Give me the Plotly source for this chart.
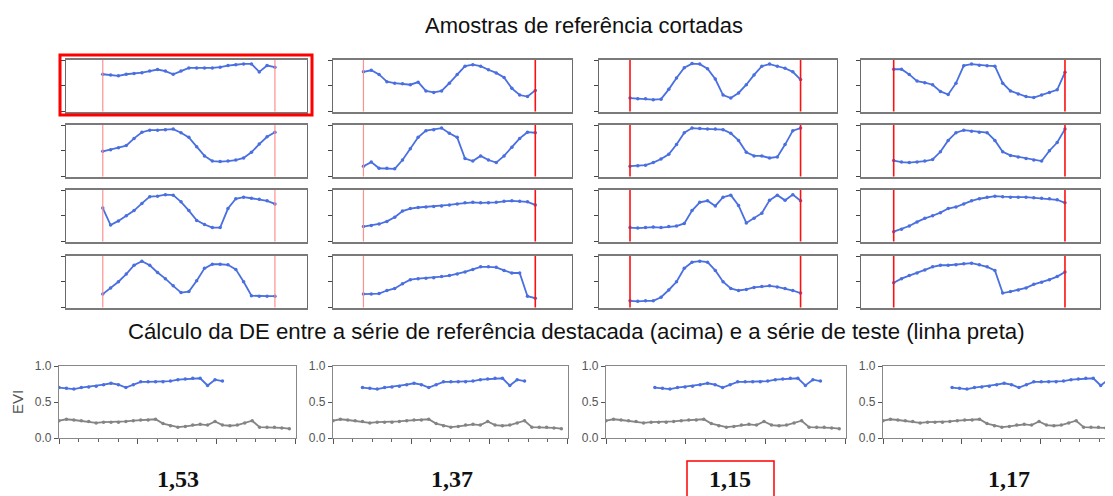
import plotly.graph_objects as go

# reference picture size and page offset (default body margin of the page)
W, H = 1113, 496
OFF = 8
FW, FH = W - OFF, H - OFF

TITLE_TOP = "Amostras de referência cortadas"
TITLE_BOTTOM = "Cálculo da DE entre a série de referência destacada (acima) e a série de teste (linha preta)"

# highlighted reference series (EVI)
REF_EVI = [0.70, 0.69, 0.68, 0.70, 0.71, 0.72, 0.74, 0.76, 0.74, 0.70, 0.74, 0.78,
           0.78, 0.78, 0.78, 0.79, 0.81, 0.82, 0.83, 0.83, 0.73, 0.81, 0.79]
# test series (black/grey line)
TEST_EVI = [0.24, 0.26, 0.25, 0.24, 0.23, 0.21, 0.22, 0.22, 0.22, 0.23, 0.24, 0.25,
            0.25, 0.26, 0.20, 0.17, 0.15, 0.16, 0.18, 0.19, 0.18, 0.23, 0.18, 0.17,
            0.18, 0.21, 0.24, 0.15, 0.15, 0.15, 0.14, 0.13]
# other cropped reference samples (relative EVI)
R1C2 = [0.77, 0.80, 0.72, 0.58, 0.55, 0.54, 0.52, 0.57, 0.40, 0.37, 0.40, 0.55, 0.72, 0.88, 0.91, 0.88, 0.81, 0.75, 0.66, 0.45, 0.32, 0.29, 0.41]
R1C3 = [0.26, 0.25, 0.25, 0.23, 0.24, 0.43, 0.65, 0.85, 0.93, 0.92, 0.83, 0.63, 0.32, 0.26, 0.36, 0.52, 0.71, 0.88, 0.92, 0.88, 0.84, 0.77, 0.62]
R1C4 = [0.82, 0.82, 0.72, 0.59, 0.56, 0.52, 0.39, 0.33, 0.55, 0.89, 0.92, 0.90, 0.89, 0.88, 0.55, 0.40, 0.34, 0.29, 0.27, 0.32, 0.37, 0.42, 0.76]
R2C1 = [0.49, 0.52, 0.56, 0.60, 0.74, 0.86, 0.90, 0.90, 0.91, 0.92, 0.85, 0.76, 0.58, 0.40, 0.30, 0.29, 0.30, 0.32, 0.36, 0.47, 0.63, 0.77, 0.86]
R2C2 = [0.20, 0.28, 0.16, 0.16, 0.15, 0.32, 0.54, 0.76, 0.89, 0.91, 0.94, 0.84, 0.76, 0.35, 0.30, 0.40, 0.32, 0.27, 0.40, 0.57, 0.74, 0.86, 0.85]
R2C3 = [0.20, 0.21, 0.22, 0.27, 0.34, 0.43, 0.62, 0.85, 0.94, 0.93, 0.92, 0.92, 0.91, 0.84, 0.70, 0.47, 0.40, 0.40, 0.36, 0.38, 0.62, 0.89, 0.94]
R2C4 = [0.31, 0.28, 0.27, 0.28, 0.30, 0.33, 0.48, 0.70, 0.85, 0.90, 0.88, 0.86, 0.85, 0.70, 0.48, 0.41, 0.38, 0.35, 0.32, 0.30, 0.50, 0.66, 0.92]
R3C1 = [0.65, 0.32, 0.40, 0.50, 0.60, 0.74, 0.87, 0.88, 0.91, 0.90, 0.77, 0.60, 0.41, 0.33, 0.27, 0.27, 0.64, 0.83, 0.86, 0.84, 0.82, 0.79, 0.73]
R3C2 = [0.29, 0.31, 0.34, 0.39, 0.47, 0.59, 0.64, 0.66, 0.67, 0.68, 0.69, 0.71, 0.73, 0.75, 0.76, 0.75, 0.75, 0.76, 0.78, 0.79, 0.78, 0.77, 0.71]
R3C3 = [0.27, 0.26, 0.27, 0.28, 0.27, 0.29, 0.30, 0.35, 0.60, 0.76, 0.79, 0.69, 0.86, 0.90, 0.70, 0.36, 0.45, 0.55, 0.80, 0.90, 0.80, 0.91, 0.79]
R3C4 = [0.19, 0.24, 0.30, 0.38, 0.45, 0.50, 0.56, 0.64, 0.67, 0.73, 0.79, 0.83, 0.86, 0.88, 0.87, 0.86, 0.86, 0.86, 0.85, 0.84, 0.83, 0.81, 0.75]
R4C1 = [0.26, 0.38, 0.50, 0.65, 0.82, 0.90, 0.82, 0.68, 0.56, 0.42, 0.29, 0.31, 0.52, 0.76, 0.84, 0.84, 0.83, 0.74, 0.50, 0.23, 0.22, 0.22, 0.22]
R4C2 = [0.26, 0.26, 0.27, 0.33, 0.37, 0.46, 0.54, 0.56, 0.57, 0.58, 0.60, 0.62, 0.65, 0.69, 0.74, 0.79, 0.79, 0.78, 0.72, 0.67, 0.67, 0.22, 0.18]
R4C3 = [0.13, 0.12, 0.13, 0.13, 0.20, 0.34, 0.50, 0.76, 0.88, 0.90, 0.88, 0.72, 0.50, 0.37, 0.33, 0.35, 0.39, 0.41, 0.42, 0.40, 0.37, 0.33, 0.28]
R4C4 = [0.48, 0.56, 0.62, 0.67, 0.73, 0.79, 0.82, 0.82, 0.83, 0.85, 0.86, 0.83, 0.79, 0.72, 0.28, 0.31, 0.34, 0.38, 0.45, 0.49, 0.54, 0.60, 0.69]

GRID = [[REF_EVI, R1C2, R1C3, R1C4],
        [R2C1, R2C2, R2C3, R2C4],
        [R3C1, R3C2, R3C3, R3C4],
        [R4C1, R4C2, R4C3, R4C4]]

DE_VALUES = ["1,53", "1,37", "1,15", "1,17"]
REF_SHIFTS = [0, 4, 6.5, 9.3]     # position of reference along the test series
BEST = 2
EVI_TICKS = [0.0, 0.5, 1.0]

BLUE = "#4a6fe0"
GREY = "#848484"


def px(x):
    return (x - OFF) / FW


def py(y):
    return 1 - (y - OFF) / FH


fig = go.Figure()
layout = {}
shapes = []
annotations = []

# ---- top grid ----
col_left = [66, 333, 599, 861]
col_right = [307, 572, 837, 1100]
col_xr = [[-4.7, 26.1], [-3.9, 26.7], [-4.0, 26.7], [-4.2, 26.5]]
row_top = [60, 125, 190, 256]
row_h = 51.5

idx = 0
for r in range(4):
    for c in range(4):
        idx += 1
        s = "" if idx == 1 else str(idx)
        vals = GRID[r][c]
        xs = list(range(len(vals)))
        yr = [0.23, 0.88] if (r == 0 and c == 0) else [0.0, 1.0]
        fig.add_trace(go.Scatter(x=xs, y=vals, mode="lines+markers",
                                 line=dict(color=BLUE, width=1.8),
                                 marker=dict(color=BLUE, size=3.5),
                                 xaxis="x" + s, yaxis="y" + s, showlegend=False,
                                 hoverinfo="skip"))
        layout["xaxis" + s] = dict(domain=[px(col_left[c]), px(col_right[c])],
                                   range=col_xr[c],
                                   anchor="y" + s, showline=True, mirror=True,
                                   linecolor="#7a7a7a", linewidth=2,
                                   showgrid=False, zeroline=False, ticks="",
                                   showticklabels=False, fixedrange=True,
                                   automargin=False)
        layout["yaxis" + s] = dict(domain=[py(row_top[r] + row_h), py(row_top[r])],
                                   range=yr,
                                   anchor="x" + s, showline=True, mirror=True,
                                   linecolor="#6a6a6a", linewidth=1.2,
                                   showgrid=False, zeroline=False, ticks="outside",
                                   ticklen=4, tickcolor="#444",
                                   tickvals=[yr[0], (yr[0] + yr[1]) / 2, yr[1]],
                                   showticklabels=False, fixedrange=True,
                                   automargin=False)
        # crop window limits
        for k, xv in enumerate([xs[0], xs[-1]]):
            light = (c == 0) or (c == 1 and k == 0)
            shapes.append(dict(type="line", xref="x" + s, yref="y" + s + " domain",
                               x0=xv, x1=xv, y0=0, y1=1,
                               line=dict(color="#ff9090" if light else "#ff1010",
                                         width=1.2 if light else 1.6)))

# highlight box around first sample
shapes.append(dict(type="rect", xref="paper", yref="paper",
                   x0=px(60), x1=px(312), y0=py(115), y1=py(55),
                   line=dict(color="#ff0000", width=3)))

# ---- bottom DE panels ----
b_left = [59, 333, 606, 883]
b_w = [237, 235, 240, 237]
b_top, b_bot = 366, 438
full_range = 31.9
num_x = [178, 452, 730, 1009]

for p in range(4):
    idx += 1
    s = str(idx)
    w = b_w[p]
    right = min(b_left[p] + w, W)
    xr = [0, full_range * (right - b_left[p]) / w]
    fig.add_trace(go.Scatter(x=list(range(len(TEST_EVI))), y=TEST_EVI,
                             mode="lines+markers",
                             line=dict(color=GREY, width=1.8),
                             marker=dict(color=GREY, size=3.5),
                             xaxis="x" + s, yaxis="y" + s, showlegend=False,
                             hoverinfo="skip"))
    fig.add_trace(go.Scatter(x=[REF_SHIFTS[p] + i for i in range(len(REF_EVI))],
                             y=REF_EVI, mode="lines+markers",
                             line=dict(color=BLUE, width=1.8),
                             marker=dict(color=BLUE, size=3.5),
                             xaxis="x" + s, yaxis="y" + s, showlegend=False,
                             hoverinfo="skip"))
    layout["xaxis" + s] = dict(domain=[px(b_left[p]), min(1, px(right))], range=xr,
                               anchor="y" + s, showline=True, mirror=True,
                               linecolor="#888", linewidth=1.2,
                               showgrid=False, zeroline=False,
                               ticks="outside", ticklen=5, tickcolor="#555",
                               tickmode="linear", tick0=0, dtick=10.6,
                               showticklabels=False,
                               minor=dict(ticks="outside", ticklen=3,
                                          tickcolor="#666", tickmode="linear",
                                          tick0=0, dtick=2.65, showgrid=False),
                               fixedrange=True, automargin=False)
    layout["yaxis" + s] = dict(domain=[py(b_bot), py(b_top)], range=[0, 1],
                               anchor="x" + s, showline=True, mirror=True,
                               linecolor="#888", linewidth=1.2,
                               showgrid=False, zeroline=False,
                               ticks="outside", ticklen=4, tickcolor="#555",
                               tickvals=EVI_TICKS,
                               ticktext=["%.1f" % v for v in EVI_TICKS],
                               tickfont=dict(family="Liberation Sans", size=12,
                                             color="#555"),
                               fixedrange=True, automargin=False)
    annotations.append(dict(x=px(num_x[p]), y=py(479), xref="paper",
                            yref="paper", xanchor="center", yanchor="middle",
                            text="<b>%s</b>" % DE_VALUES[p],
                            showarrow=False,
                            font=dict(family="Liberation Serif", size=24,
                                      color="#111")))

# box around the best (lowest) distance
shapes.append(dict(type="rect", xref="paper", yref="paper",
                   x0=px(687), x1=px(774), y0=-0.02, y1=py(461),
                   line=dict(color="#ff0000", width=1.5)))

annotations.append(dict(x=px(17), y=py(402), xref="paper", yref="paper",
                        xanchor="center", yanchor="middle",
                        text="EVI", textangle=-90, showarrow=False,
                        font=dict(family="Liberation Sans", size=15, color="#555")))
annotations.append(dict(x=px(584), y=py(25), xref="paper", yref="paper",
                        xanchor="center", yanchor="middle",
                        text=TITLE_TOP, showarrow=False,
                        font=dict(family="Liberation Sans", size=22, color="#111")))
annotations.append(dict(x=px(577), y=py(331), xref="paper", yref="paper",
                        xanchor="center", yanchor="middle",
                        text=TITLE_BOTTOM, showarrow=False,
                        font=dict(family="Liberation Sans", size=22.2, color="#111")))

fig.update_layout(width=FW, height=FH, margin=dict(l=0, r=0, t=0, b=0),
                  paper_bgcolor="white", plot_bgcolor="white",
                  shapes=shapes, annotations=annotations, **layout)

fig.write_html("out.html")
